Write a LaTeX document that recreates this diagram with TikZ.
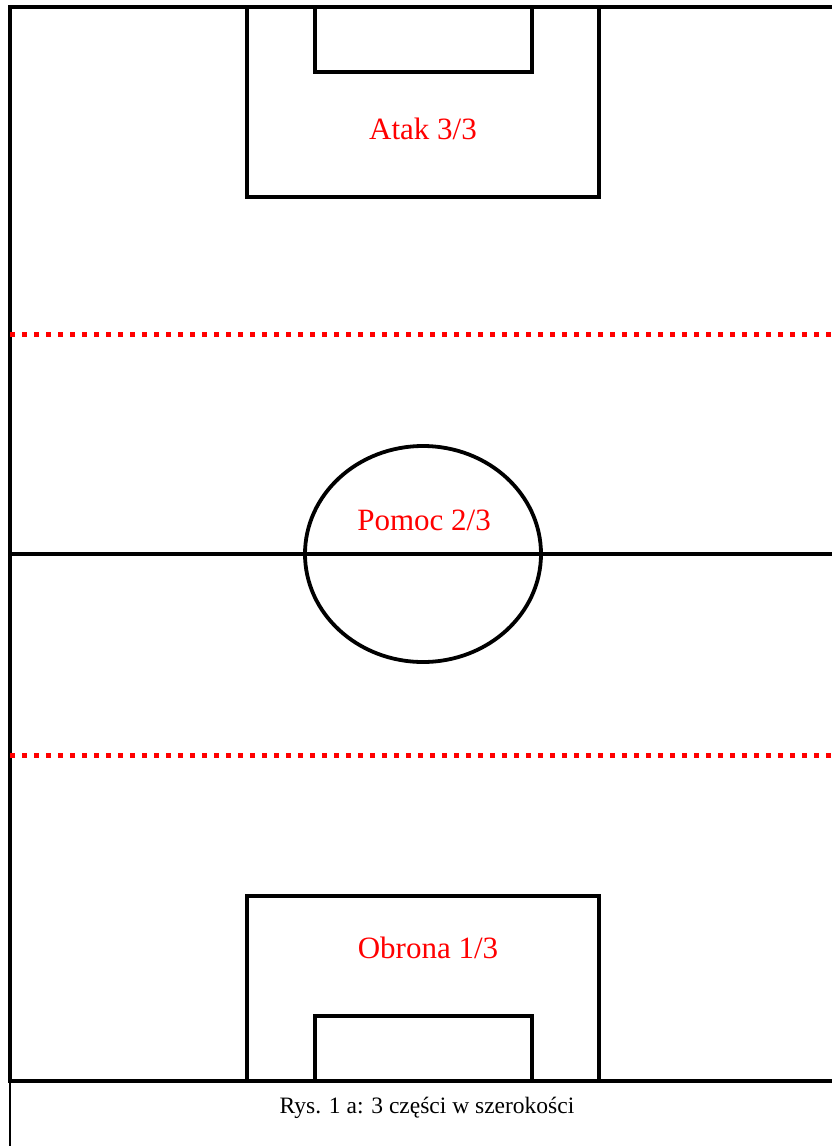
\documentclass[tikz,border=0pt]{standalone}
\usepackage{fontspec}
\setmainfont{Liberation Serif}
\begin{document}
\begin{tikzpicture}[x=1pt,y=-1pt,
  fieldline/.style={line width=3.8pt,draw=black},
  thinline/.style={line width=1.2pt,draw=black},
  zoneline/.style={line width=5pt,draw=red,dash pattern=on 5pt off 7pt},
  zonelabel/.style={text=red,font=\fontsize{31}{36}\selectfont,inner sep=0pt},
  caption/.style={text=black,font=\fontsize{23.5}{28}\selectfont,inner sep=0pt}]
\useasboundingbox (0,0) rectangle (832,1146);
\fill[white] (0,0) rectangle (832,1146);
% field outline (right edge beyond picture)
\draw[fieldline] (845,7) -- (10,7) -- (10,1081) -- (845,1081);
% thin caption frame edge
\draw[thinline] (10,1081) -- (10,1150);
% top penalty and goal areas
\draw[fieldline] (247,7) rectangle (599,197);
\draw[fieldline] (315,7) rectangle (532,72);
% bottom penalty and goal areas
\draw[fieldline] (247,896) rectangle (599,1081);
\draw[fieldline] (315,1016) rectangle (532,1081);
% halfway line and centre circle
\draw[fieldline] (10,554) -- (845,554);
\draw[fieldline] (423,554) ellipse [x radius=118, y radius=108];
% zone lines
\draw[zoneline] (10,334) -- (835,334);
\draw[zoneline] (10,755) -- (835,755);
% labels
\node[zonelabel] (atak) at (423,129) {Atak 3/3};
\node[zonelabel] (pomoc) at (424,520) {Pomoc 2/3};
\node[zonelabel] (obrona) at (428,948) {Obrona 1/3};
\node[caption] (cap) at (427,1108) {Rys. 1 a: 3 części w szerokości};
\end{tikzpicture}
\end{document}
